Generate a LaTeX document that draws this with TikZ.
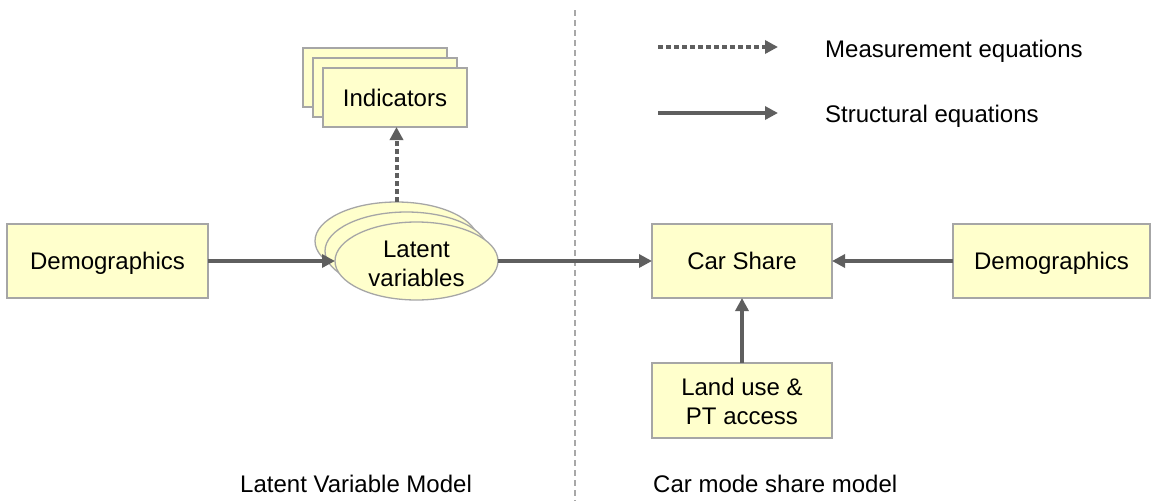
\documentclass[tikz,border=0pt]{standalone}
\usepackage{fontspec}
\setmainfont{Liberation Sans}
\usetikzlibrary{arrows.meta,shapes.geometric}
\definecolor{boxfill}{HTML}{FFFFCC}
\definecolor{boxline}{HTML}{A6A6A6}
\definecolor{arrowgray}{HTML}{5F5F5F}
\definecolor{divgray}{HTML}{A8A8A8}
\tikzset{
  txt/.style={font=\fontsize{24}{29}\selectfont},
  box/.style={txt, draw=boxline, line width=1.3pt, fill=boxfill, inner sep=0pt, outer sep=0pt, align=center},
  ell/.style={txt, ellipse, draw=boxline, line width=1.3pt, fill=boxfill, inner sep=0pt, outer sep=0pt,
              minimum width=163pt, minimum height=78pt, align=center},
  struct/.style={draw=arrowgray, line width=4pt, -{Triangle[length=13pt,width=13pt]}},
  meas/.style={draw=arrowgray, line width=4pt, dash pattern=on 5pt off 3pt, -{Triangle[length=13pt,width=13pt]}},
  divider/.style={draw=divgray, line width=1.5pt, dash pattern=on 6pt off 4pt},
}
\begin{document}
\begin{tikzpicture}[x=1pt,y=-1pt]
\useasboundingbox (0,0) rectangle (1152,501);
% divider
\coordinate (dtop) at (575,10);
\coordinate (dbot) at (575,501);
\draw[divider] (dtop) -- (dbot);
% left demographics
\node[box, minimum width=201pt, minimum height=74pt, text height=17.2pt, text depth=0pt] (dem1) at (107.5,261) {Demographics};
% indicators stack
\node[box, minimum width=144pt, minimum height=59pt] (indb) at (375,77.5) {};
\node[box, minimum width=144pt, minimum height=59pt] (indm) at (385,87.5) {};
\node[box, minimum width=144pt, minimum height=59pt, text height=17.2pt, text depth=0pt] (ind) at (395,97.5) {Indicators};
% latent variables stack
\node[ell] (ellb) at (396.5,241) {};
\node[ell] (ellm) at (406.5,251) {};
\node[ell] (ell) at (416.5,261) {\rule{0pt}{23pt}Latent\\variables};
% right side
\node[box, minimum width=180pt, minimum height=74pt, text height=17.2pt, text depth=0pt] (car) at (742,261) {Car Share};
\node[box, minimum width=197pt, minimum height=74pt, text height=17.2pt, text depth=0pt] (dem2) at (1051.5,261) {Demographics};
\node[box, minimum width=180pt, minimum height=75pt] (land) at (742,400.5) {\rule{0pt}{20pt}Land use \&\\PT access};
% connectors
\draw[struct] (dem1.east) -- (ell.west);
\draw[meas] (ellb.north) -- (ellb.north |- ind.south);
\draw[struct] (ell.east) -- (car.west);
\draw[struct] (dem2.west) -- (car.east);
\draw[struct] (land.north) -- (car.south);
% legend
\coordinate (l1a) at (658,47);
\coordinate (l1b) at (778,47);
\coordinate (l2a) at (658,113);
\coordinate (l2b) at (778,113);
\draw[meas] (l1a) -- (l1b);
\draw[struct] (l2a) -- (l2b);
\node[txt, anchor=base west, inner sep=0pt] (lmeas) at (825,57) {Measurement equations};
\node[txt, anchor=base west, inner sep=0pt] (lstruct) at (825,122) {Structural equations};
% bottom labels
\node[txt, anchor=base west, inner sep=0pt] (lvm) at (240,492) {Latent Variable Model};
\node[txt, anchor=base west, inner sep=0pt] (cmm) at (653,492) {Car mode share model};
\end{tikzpicture}
\end{document}
